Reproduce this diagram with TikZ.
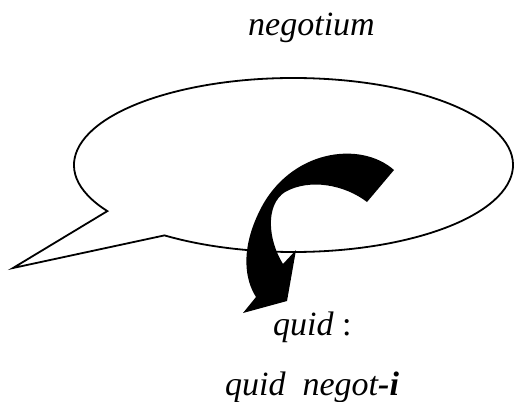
\documentclass[tikz,border=0pt]{standalone}
\usepackage{fontspec}
\setmainfont{Liberation Serif}
\begin{document}
\begin{tikzpicture}[x=1pt, y=-1pt, line cap=round, line join=round]
% sizes (pixels)
\providecommand{\bubbleLineWidth}{1.8pt}
\providecommand{\wordFont}{\fontsize{34}{40}\selectfont\itshape}
\tikzset{
  word/.style={font=\wordFont, inner sep=0pt, anchor=base west},
  bubble/.style={draw=black, line width=\bubbleLineWidth, line join=miter}
}
\useasboundingbox (0,0) rectangle (515,402);
% Speech bubble with its tail
\coordinate (bubblectr) at (293.5,165);
\coordinate (tailtip) at (13,268);
\draw[bubble] (tailtip) -- ([shift={(148:219.5 and 87)}]bubblectr)
  arc[start angle=148, end angle=486, x radius=219.5, y radius=87] -- cycle;
% Curved arrow
\fill[black] (394,170) .. controls (360,140) and (290,150) .. (260,210)
  .. controls (240,250) and (245,280) .. (256,297)
  -- (243,313) -- (287,301) -- (296,250) -- (283,264)
  .. controls (268,240) and (265,205) .. (285,192)
  .. controls (310,178) and (345,185) .. (367,202) -- cycle;
% Words
\node[word, anchor=base] (title) at (311.5,35) {negotium};
\node[word] (question) at (273,335) {quid \upshape:};
\node[word] (answer) at (225,395) {quid\ \ negot\textbf{-i}};
\end{tikzpicture}
\end{document}
